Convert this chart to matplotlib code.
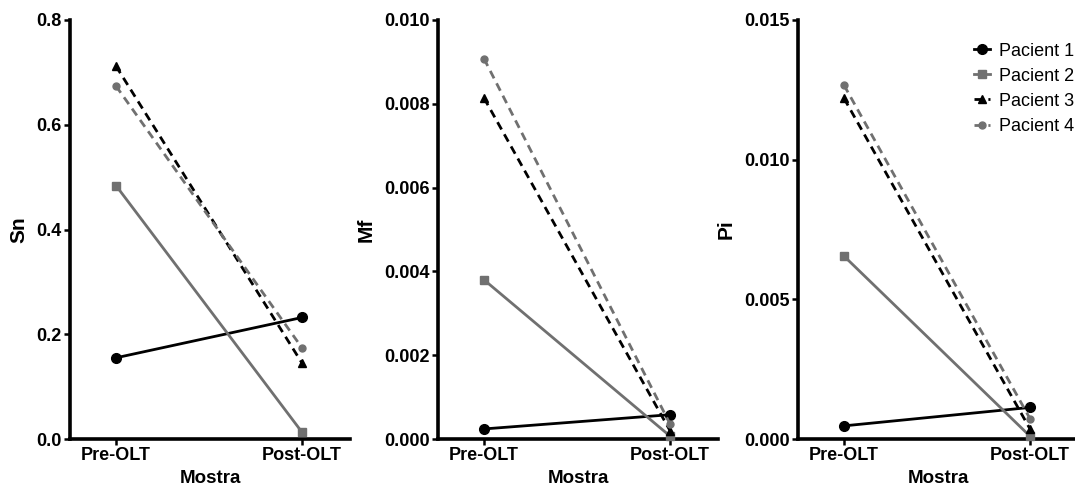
import matplotlib.pyplot as plt

# sample labels and patient values
samples = ["Pre-OLT", "Post-OLT"]
patients = ["Pacient 1", "Pacient 2", "Pacient 3", "Pacient 4"]

sn_vals = [[0.155, 0.232], [0.484, 0.013], [0.712, 0.145], [0.674, 0.174]]
mf_vals = [[0.00024, 0.00058], [0.0038, 0.00007], [0.00814, 0.0002], [0.00908, 0.00036]]
pi_vals = [[0.00047, 0.00113], [0.00655, 0.0001], [0.0122, 0.00036], [0.01267, 0.00073]]

panel_names = ["Sn", "Mf", "Pi"]
panel_data = [sn_vals, mf_vals, pi_vals]
panel_ylims = [0.8, 0.010, 0.015]
panel_ticks = [[0.0, 0.2, 0.4, 0.6, 0.8],
               [0.0, 0.002, 0.004, 0.006, 0.008, 0.010],
               [0.0, 0.005, 0.010, 0.015]]
panel_fmt = ["{:.1f}", "{:.3f}", "{:.3f}"]

styles = [
    dict(color="black", ls="-", marker="o", ms=7),
    dict(color="#707070", ls="-", marker="s", ms=6),
    dict(color="black", ls=(0, (3, 2)), marker="^", ms=5.5),
    dict(color="#707070", ls=(0, (3, 2)), marker="o", ms=5),
]

plt.rcParams['font.family'] = ['Liberation Sans', 'DejaVu Sans']

fig = plt.figure(figsize=(10.75, 4.88), dpi=100)
lefts = [70, 438, 798]
for i in range(3):
    ax = fig.add_axes([lefts[i] / 1075, 1 - 439 / 488, 280 / 1075, (439 - 20) / 488])
    for j, vals in enumerate(panel_data[i]):
        st = styles[j]
        ax.plot([0, 1], vals, color=st["color"], linestyle=st["ls"], lw=2.0,
                marker=st["marker"], markersize=st["ms"], label=patients[j],
                clip_on=False, zorder=3)
    ax.set_xlim(-0.247, 1.258)
    ax.set_ylim(0, panel_ylims[i])
    ax.set_yticks(panel_ticks[i])
    ax.set_yticklabels([panel_fmt[i].format(t) for t in panel_ticks[i]])
    ax.set_xticks([0, 1])
    ax.set_xticklabels(samples)
    for s in ["top", "right"]:
        ax.spines[s].set_visible(False)
    for s in ["left", "bottom"]:
        ax.spines[s].set_linewidth(2.6)
    ax.tick_params(axis="both", width=1.8, length=4, direction="out", pad=2, labelsize=13)
    for lbl in ax.get_xticklabels() + ax.get_yticklabels():
        lbl.set_fontweight("bold")
    ax.set_ylabel(panel_names[i], fontsize=15, fontweight="bold", labelpad=6)
    ax.set_xlabel("Mostra", fontsize=13.5, fontweight="bold", labelpad=4)
    if i == 2:
        ax.legend(loc="upper left", bbox_to_anchor=(0.57, 0.985), frameon=False,
                  fontsize=13, handlelength=0.9, handletextpad=0.5,
                  labelspacing=0.45)

fig.savefig("out.png", dpi=100)
